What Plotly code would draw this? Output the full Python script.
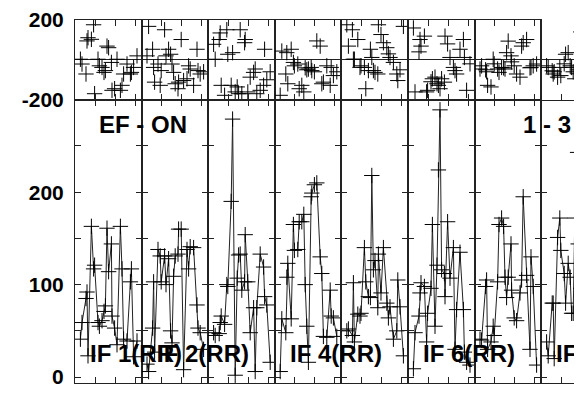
import plotly.graph_objects as go
from plotly.subplots import make_subplots

# ---- data -------------------------------------------------------------
TIMES = [0.27, 0.35, 0.55, 0.60, 0.65, 0.82, 0.93, 0.98, 1.15, 1.22, 1.35, 1.45,
         1.52, 1.60, 1.68, 1.82, 1.85, 1.98, 2.10, 2.27, 2.35, 2.43, 2.60, 2.77,
         2.82, 2.93, 3.10]

PANEL_LABELS = ["IF 1(RR)", "IF 2(RR)", "", "IF 4(RR)", "", "IF 6(RR)", "", "IF 8(RR)"]

AMP_IF1 = [41, 59, 85, 92, 23, 163, 117, 121, 59, 55, 61, 71, 77, 161, 114, 144,
           66, 53, 35, 163, 117, 41, 39, 103, 117, 22, 39]
AMP_IF2 = [14, 6, 53, 103, 27, 138, 131, 103, 131, 100, 128, 50, 37, 109, 131, 133,
           160, 160, 8, 138, 117, 141, 140, 78, 53, 48, 30]
AMP_IF3 = [48, 45, 47, 59, 66, 57, 100, 98, 190, 279, 2, 107, 132, 133, 94, 103,
           154, 103, 48, 75, 6, 75, 133, 119, 87, 78, 16]
AMP_IF4 = [6, 63, 48, 108, 123, 63, 165, 137, 138, 168, 168, 176, 100, 55, 16, 195,
           199, 208, 210, 130, 112, 44, 43, 94, 66, 64, 44]
AMP_IF5 = [50, 52, 45, 102, 38, 68, 66, 69, 140, 103, 87, 86, 218, 116, 126, 75,
           133, 91, 140, 80, 64, 76, 41, 50, 105, 76, 23]
AMP_IF6 = [9, 48, 66, 91, 102, 98, 38, 69, 96, 165, 55, 121, 224, 289, 116, 112,
           87, 168, 107, 140, 30, 73, 135, 73, 27, 16, 13]
AMP_IF7 = [41, 40, 98, 105, 30, 38, 55, 45, 103, 165, 172, 163, 108, 86, 108, 144,
           94, 64, 61, 91, 105, 195, 110, 30, 130, 98, 13]
AMP_IF8 = [38, 23, 80, 80, 20, 151, 172, 137, 112, 80, 123, 108, 69, 69, 172, 243,
           144, 96, 20, 165]

PHS_IF1 = [3, -21, -71, 95, 111, 103, 176, -170, 3, -30, -38, -63, -54, 69, 61, -13,
           -153, -145, 3, -153, -128, -71, -21, -71, -63, -38, 20]
PHS_IF2 = [20, 168, 53, -38, -112, -21, -128, -54, 151, 20, 53, 28, -21, -63, -120,
           -145, -112, 102, -104, -95, -30, -46, -128, 53, -54, -71, -60]
PHS_IF3 = [78, 3, 102, 135, -128, -178, 151, 28, -128, 36, -161, -136, -170, 151,
           -170, 86, 102, -161, -87, -63, -46, -170, -153, -128, 53, -100, -60]
PHS_IF4 = [-178, 44, -71, 36, -120, 53, -13, -30, -21, -145, -128, -161, -40, -50,
           -46, -38, -54, -60, 95, 69, -120, -112, -30, -128, -38, -79, -60]
PHS_IF5 = [176, 69, 151, 3, 3, 102, -38, -30, -38, -145, -54, 53, 12, -54, -63, -71,
           176, 127, 86, 61, 30, 12, -13, -71, -104, -50, 168]
PHS_IF6 = [160, -161, 40, 102, 69, 119, -161, -153, -110, -95, -87, -120, -128, -145,
           -95, -112, 119, 80, 12, -38, -54, -71, 53, 102, 12, -153, -20]
PHS_IF7 = [-46, -30, -50, -60, -128, -136, 3, -20, -46, -63, -38, -40, -46, 36, 94,
           20, -10, -30, -71, -87, 69, 86, 102, -40, -38, -30, -21]
PHS_IF8 = [-30, -38, -55, -71, -60, -87, -38, -79, -20, 28, 36, -30, -38, -60, -95,
           -70, -50, 140]

AMPS = [AMP_IF1, AMP_IF2, AMP_IF3, AMP_IF4, AMP_IF5, AMP_IF6, AMP_IF7, AMP_IF8]
PHASES = [PHS_IF1, PHS_IF2, PHS_IF3, PHS_IF4, PHS_IF5, PHS_IF6, PHS_IF7, PHS_IF8]

AMP_TICKS = [0, 50, 100, 150, 200, 250, 300]
AMP_TICKTEXT = ["0", "", "100", "", "200", "", ""]
PHS_TICKS = [-200, 200]
PHS_TICKTEXT = ["-200", "200"]
TIME_TICKS = [1, 2, 3]

# ---- figure -----------------------------------------------------------
PANEL_W = 66.6
NCOL = 8
col_widths = [PANEL_W] * 7 + [507 - 7 * PANEL_W]

fig = make_subplots(rows=2, cols=NCOL, column_widths=col_widths,
                    row_heights=[81, 288], horizontal_spacing=0,
                    vertical_spacing=0)

mk = dict(symbol="cross-thin", size=11, color="black",
          line=dict(width=1, color="black"))

for i in range(NCOL):
    c = i + 1
    ph = PHASES[i]
    am = AMPS[i]
    fig.add_trace(go.Scatter(x=TIMES[:len(ph)], y=ph, mode="markers",
                             marker=mk, showlegend=False), row=1, col=c)
    fig.add_trace(go.Scatter(x=TIMES[:len(am)], y=am, mode="lines+markers",
                             marker=mk, line=dict(color="#222", width=1),
                             showlegend=False), row=2, col=c)

font_tick = dict(family="Liberation Sans, Arial", size=21, color="black",
                 weight="bold")

for i in range(NCOL):
    c = i + 1
    xmax = 3.33 if i < 7 else col_widths[-1] / 20.0
    common_x = dict(range=[0, xmax], tickvals=TIME_TICKS, showticklabels=False,
                    ticks="inside", ticklen=6, tickcolor="#222", tickwidth=1,
                    showline=True, linecolor="#222", linewidth=1,
                    mirror="ticks" if i < 7 else False, showgrid=False,
                    zeroline=False)
    fig.update_xaxes(common_x, row=1, col=c)
    fig.update_xaxes(common_x, row=2, col=c)
    fig.update_yaxes(range=[-200, 200], tickvals=PHS_TICKS, ticktext=PHS_TICKTEXT,
                     showticklabels=(i == 0), ticks="inside", ticklen=5,
                     tickcolor="#222", showline=True, linecolor="#222",
                     linewidth=1, mirror="ticks" if i < 7 else False,
                     showgrid=False, zeroline=True, zerolinecolor="#222",
                     zerolinewidth=1, tickfont=font_tick, ticklabelstandoff=6,
                     ticklabeloverflow="allow", row=1, col=c)
    fig.update_yaxes(range=[-6.4, 300], tickvals=AMP_TICKS, ticktext=AMP_TICKTEXT,
                     showticklabels=(i == 0), ticks="inside", ticklen=6,
                     tickcolor="#222", showline=True, linecolor="#222",
                     linewidth=1, mirror="ticks" if i < 7 else False,
                     showgrid=False, zeroline=False, tickfont=font_tick,
                     ticklabelstandoff=6, ticklabeloverflow="allow",
                     row=2, col=c)

label_font = dict(family="Liberation Sans, Arial", size=24, color="black",
                  weight="bold")

for i, lab in enumerate(PANEL_LABELS):
    if not lab:
        continue
    xaxis_name = "x" if i == 0 else f"x{NCOL + i + 1}"
    fig.add_annotation(text=lab, xref=f"{xaxis_name} domain", x=0, xshift=13,
                       xanchor="left", yref="paper", y=0.0813, yanchor="middle",
                       showarrow=False, font=label_font)

fig.add_annotation(text="EF - ON", xref="paper", x=(97 - 75) / 507, xanchor="left",
                   yref="paper", y=(383 - 120.5) / 369, yanchor="middle",
                   showarrow=False, font=label_font)
fig.add_annotation(text="1 - 3", xref="paper", x=(521 - 75) / 507, xanchor="left",
                   yref="paper", y=(383 - 120.5) / 369, yanchor="middle",
                   showarrow=False, font=label_font)

# page body adds an 8px margin, so the figure is offset by (8, 8)
fig.update_layout(width=574, height=387, margin=dict(l=67, r=0, t=6, b=12),
                  plot_bgcolor="white", paper_bgcolor="white")

fig.write_html("out.html")
